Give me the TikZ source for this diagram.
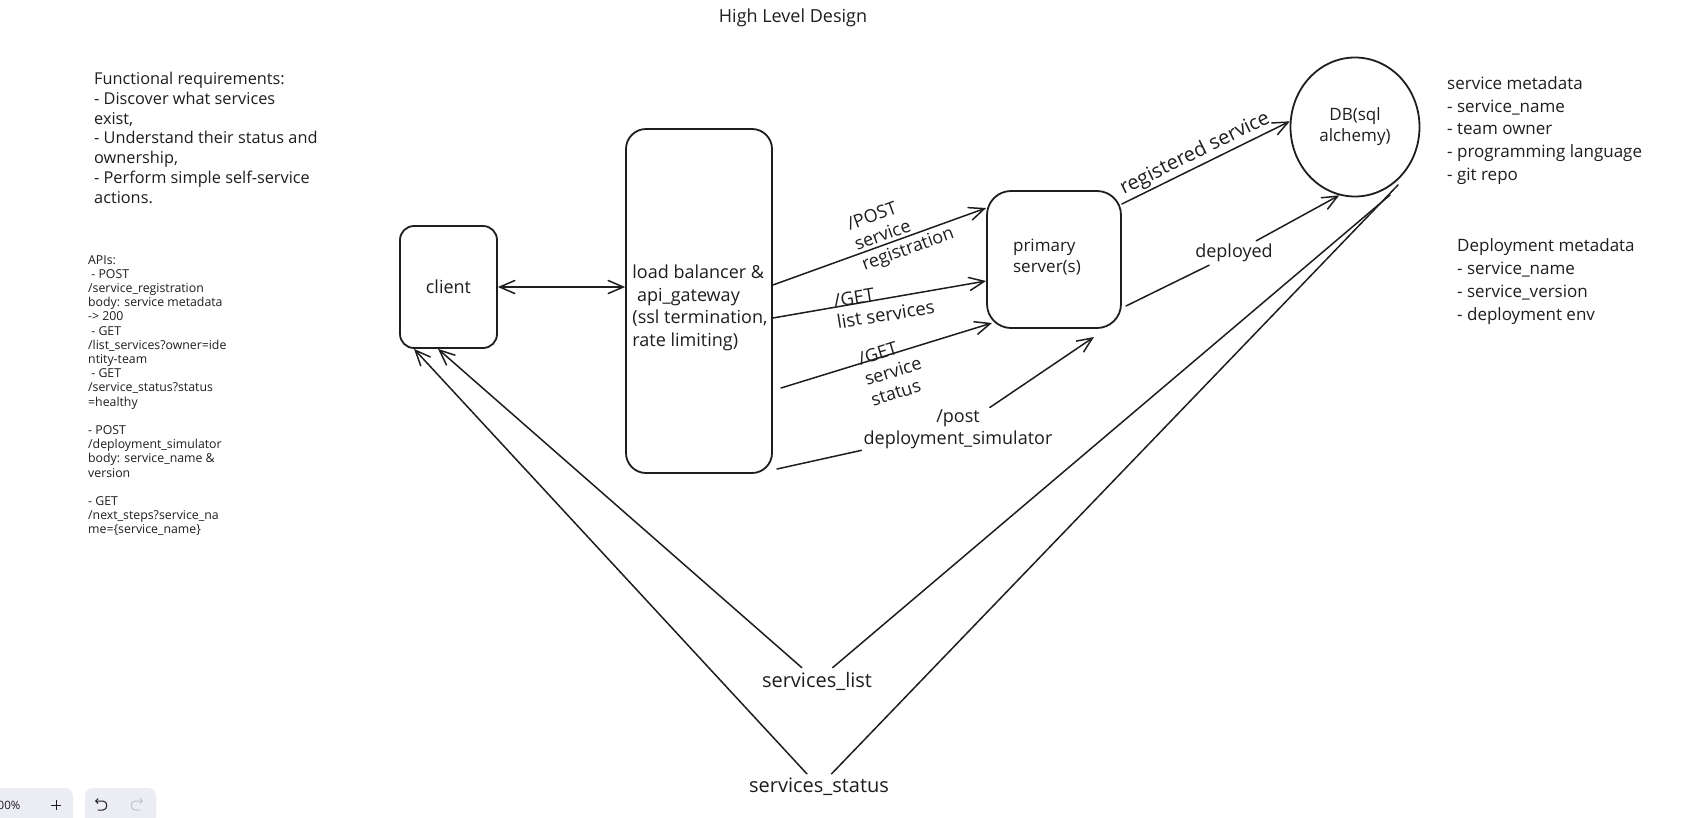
\documentclass[tikz,border=0pt]{standalone}
\usepackage{fontspec}
\setmainfont{Open Sans}
\usetikzlibrary{arrows.meta,shapes.geometric}
\definecolor{ink}{HTML}{1E1E1E}
\definecolor{chromebg}{HTML}{ECECF4}
\definecolor{chromefg}{HTML}{1B1B1F}
\definecolor{chromeoff}{HTML}{C2C2CC}
\begin{document}
\begin{tikzpicture}[x=1pt,y=-1pt,
  every node/.style={text=ink},
  box/.style={draw=ink, line width=1.8pt, inner sep=0pt},
  conn/.style={draw=ink, line width=1.5pt, line cap=round},
  arr/.style={conn, -{Straight Barb[length=15pt,width=13pt,line cap=round]}},
  dbl/.style={conn, {Straight Barb[length=15pt,width=13pt,line cap=round]}-{Straight Barb[length=15pt,width=13pt,line cap=round]}},
  note/.style={anchor=north west, inner sep=0pt, align=left},
  lbl/.style={font=\fontsize{18}{21.5}\selectfont, inner sep=2pt, align=left},
  biglbl/.style={font=\fontsize{20}{24}\selectfont, inner sep=4pt},
]
\useasboundingbox (0,0) rectangle (1682,817);
\fill[white] (0,0) rectangle (1682,817);

% title
\node[font=\fontsize{18}{22}\selectfont] (title) at (793,18) {High Level Design};

% notes
\node[note, font=\fontsize{16.3}{19.8}\selectfont] (fr) at (94,72)
  {Functional requirements:\\- Discover what services\\exist,\\- Understand their status and\\ownership,\\- Perform simple self-service\\actions.};
\node[note, font=\fontsize{12.3}{14.2}\selectfont] (apis) at (88,255)
  {APIs:\\\ - POST\\/service\_registration\\body: service metadata\\-> 200\\\ - GET\\/list\_services?owner=ide\\ntity-team\\\ - GET\\/service\_status?status\\=healthy\\[14.2pt]- POST\\/deployment\_simulator\\body: service\_name \&\\version\\[14.2pt]- GET\\/next\_steps?service\_na\\me=\{service\_name\}};
\node[note, font=\fontsize{17}{22.9}\selectfont] (smeta) at (1447,76)
  {service metadata\\- service\_name\\- team owner\\- programming language\\- git repo};
\node[note, font=\fontsize{17}{22.9}\selectfont] (dmeta) at (1457,238.5)
  {Deployment metadata\\- service\_name\\- service\_version\\- deployment env};

% main nodes
\node[box, rounded corners=14pt, minimum width=97pt, minimum height=122pt,
      font=\fontsize{18}{22.5}\selectfont] (client) at (448.5,287) {client};
\node[box, rounded corners=20pt, minimum width=146pt, minimum height=344pt] (lb) at (699,301) {};
\node[align=left, inner sep=0pt, font=\fontsize{18}{22.5}\selectfont] (lbtext) at (700,308)
  {load balancer \&\\\ api\_gateway\\(ssl termination,\\rate limiting)};
\node[box, rounded corners=24pt, minimum width=134pt, minimum height=137pt] (pri) at (1054,259.5) {};
\node[align=left, inner sep=0pt, font=\fontsize{17}{21}\selectfont] (pritext) at (1047,257) {primary\\server(s)};
\node[box, ellipse, minimum width=129pt, minimum height=139pt, align=center,
      font=\fontsize{17}{21}\selectfont] (db) at (1355,127) {DB(sql\\alchemy)};

% labels
\node[lbl, rotate=20] (postlbl) at (901,230) {/POST\\service\\registration};
\node[lbl, rotate=9, font=\fontsize{18.5}{21.5}\selectfont] (listlbl) at (884,304) {/GET\\list services};
\node[lbl, rotate=17] (statlbl) at (893,371) {/GET\\service\\status};
\node[lbl, align=center] (deplbl) at (958,429) {/post\\deployment\_simulator};
\node[lbl, inner sep=3pt] (dplbl) at (1234,253) {deployed};
\node[biglbl] (sllbl) at (817,681) {services\_list};
\node[biglbl] (sslbl) at (819,787) {services\_status};

% free ends
\coordinate (gsS) at (781,388);
\coordinate (gsE) at (992,323);
\coordinate (depS) at (777,469);
\coordinate (depE) at (1094,337);
\coordinate (dpS) at (1126,306);
\coordinate (slE) at (1390,195);
\coordinate (ssE) at (1398,185);

% connectors
\draw[dbl] (client.east) -- (client.east -| lb.west);
\draw[arr] (lb.east |- 0,285) -- (pri.west |- 0,208);
\draw[arr] (lb.east |- 0,318) -- (pri.west |- 0,281);
\draw[arr] (gsS) -- (gsE);
\draw[conn] (depS) -- (deplbl);
\draw[arr] (deplbl) -- (depE);
\draw[arr] (pri.east |- 0,204) -- node[pos=0.47, sloped, above, inner sep=2pt, font=\fontsize{20}{24}\selectfont] (reglbl) {registered service} (db.175);
\draw[conn] (dpS) -- (dplbl);
\draw[arr] (dplbl) -- (db.257);
\draw[conn] (slE) -- (sllbl);
\draw[arr] (sllbl) -- (client.south -| 438,0);
\draw[conn] (ssE) -- (sslbl);
\draw[arr] (sslbl) -- (client.south -| 414,0);

% canvas chrome
\fill[chromebg, rounded corners=8pt] (-20,788) rectangle (73,840);
\fill[chromebg, rounded corners=8pt] (85,788) rectangle (156,840);
\node[anchor=east, inner sep=0pt, text=chromefg, font=\fontsize{11.5}{13}\selectfont] (zoomtxt) at (20.5,805) {00\%};
\draw[chromefg, line width=1pt] (51,805) -- (61,805) (56,800) -- (56,810);
\draw[chromefg, line width=1pt, line cap=round, -{Straight Barb[length=2.5pt,width=5pt]}]
  (98,810) -- (103,810) .. controls (108,810) and (108,801) .. (103,801) -- (95,801);
\draw[chromeoff, line width=1pt, line cap=round, -{Straight Barb[length=2.5pt,width=5pt]}]
  (140,810) -- (135,810) .. controls (130,810) and (130,801) .. (135,801) -- (143,801);
\end{tikzpicture}
\end{document}
